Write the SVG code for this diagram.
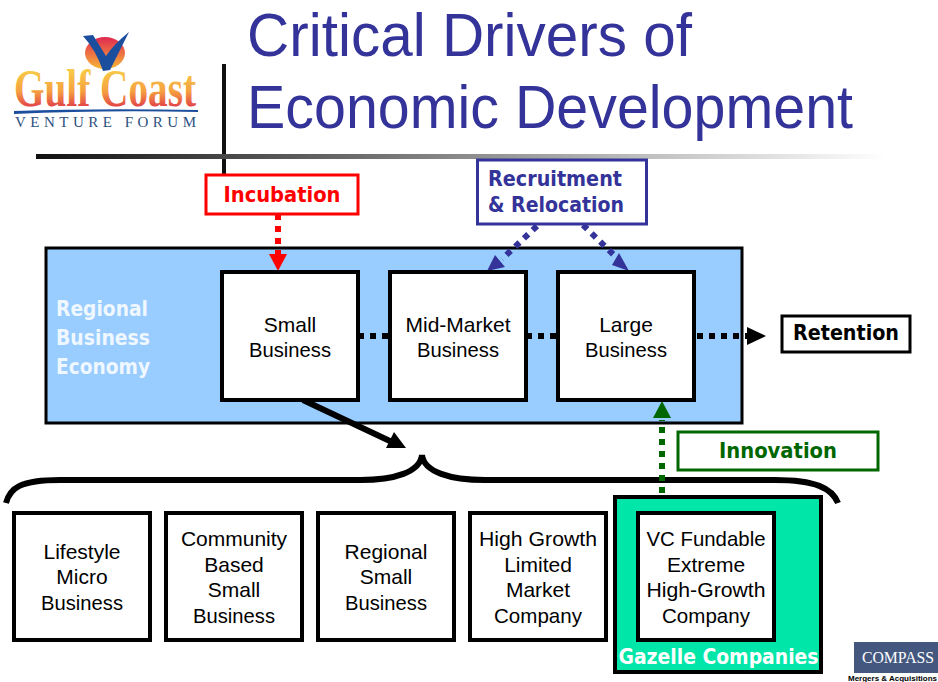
<svg xmlns="http://www.w3.org/2000/svg" width="938" height="682" viewBox="0 0 938 682">
<style>
text{font-family:"Liberation Sans","DejaVu Sans",sans-serif}
.box{fill:#fff;stroke:#000;stroke-width:4}
.lbl{font-size:21px;text-anchor:middle;fill:#000}
.bold{font-family:"DejaVu Sans",sans-serif;font-weight:700}
.title{font-size:61px;fill:#333399}
.dot{fill:none;stroke-width:6;stroke-dasharray:6 6}
</style>
<defs>
<linearGradient id="rule" x1="0" x2="1" y1="0" y2="0"><stop offset="0" stop-color="#111"/><stop offset="0.35" stop-color="#666"/><stop offset="0.7" stop-color="#bbb"/><stop offset="1" stop-color="#fff"/></linearGradient>
<linearGradient id="gulf" x1="0" x2="0" y1="0" y2="1"><stop offset="0.2" stop-color="#f8c848"/><stop offset="0.55" stop-color="#f5a040"/><stop offset="0.85" stop-color="#e03848"/></linearGradient>
<linearGradient id="sun" x1="0" x2="0" y1="0" y2="1"><stop offset="0" stop-color="#e02850"/><stop offset="1" stop-color="#f8b838"/></linearGradient>
</defs>
<rect width="938" height="682" fill="#fff"/>
<g id="logo-gulf-coast">
<ellipse cx="105" cy="53" rx="20" ry="16" fill="url(#sun)"/>
<path d="M83 36 L93 35 Q101 48 106 56 Q114 44 129 32 Q120 50 110 70 L103 71 Q96 50 83 36Z" fill="#1c4e9e"/>
<text x="14" y="106" font-size="52" font-weight="700" textLength="182" lengthAdjust="spacingAndGlyphs" style="font-family:'Liberation Serif',serif" fill="url(#gulf)">Gulf Coast</text>
<path d="M14 111 Q100 108 198 110 L198 112 Q100 110 14 114Z" fill="#1c4e9e"/>
<text x="15" y="127" font-size="15" textLength="181" style="font-family:'Liberation Serif',serif" fill="#2c5080">VENTURE FORUM</text>
</g>
<g id="title">
<rect x="222" y="64" width="4" height="111" fill="#111"/>
<rect x="36" y="154" width="850" height="5" fill="url(#rule)"/>
<text class="title" x="247" y="56" textLength="445" lengthAdjust="spacingAndGlyphs">Critical Drivers of</text>
<text class="title" x="247" y="128" textLength="606" lengthAdjust="spacingAndGlyphs">Economic Development</text>
</g>
<g id="regional-economy">
<rect x="46" y="248" width="696" height="175" fill="#99ccff" stroke="#000" stroke-width="3"/>
<text class="bold" font-size="21" fill="#fff" opacity="0.85"><tspan x="56" y="316" textLength="92" lengthAdjust="spacingAndGlyphs">Regional</tspan><tspan x="56" y="345" textLength="94" lengthAdjust="spacingAndGlyphs">Business</tspan><tspan x="56" y="374" textLength="94" lengthAdjust="spacingAndGlyphs">Economy</tspan></text>
</g>
<g id="connectors">
<path class="dot" d="M358 336H389M526 336H557" stroke="#000"/>
<path class="dot" d="M697 336H748" stroke="#000"/>
<path d="M766 336L747 327V345Z" fill="#000"/>
<path class="dot" d="M278 214V254" stroke="#f00"/>
<path d="M278 271L269 254H287Z" fill="#f00"/>
<path class="dot" d="M537 226L502 259" stroke="#333399"/>
<path d="M487 271L495 255L505 267Z" fill="#333399"/>
<path class="dot" d="M583 225L618 259" stroke="#333399"/>
<path d="M629 271L612 265L619 253Z" fill="#333399"/>
<path d="M303 400L392 442" fill="none" stroke="#000" stroke-width="6"/>
<path d="M406 448L386 448L394 432Z" fill="#000"/>
<path d="M6 503C10 488 20 480 60 480H360C395 480 420 472 422 455C424 472 450 480 485 480H775C815 480 832 488 838 503" fill="none" stroke="#000" stroke-width="6"/>
<path class="dot" d="M662 493V420" stroke="#006600"/>
<path d="M662 401L653 418H671Z" fill="#006600"/>
</g>
<g id="incubation"><rect x="206" y="175" width="152" height="39" fill="#fff" stroke="#f00" stroke-width="3"/><text class="bold" x="282" y="202" font-size="21" fill="#f00" text-anchor="middle" textLength="117" lengthAdjust="spacingAndGlyphs">Incubation</text></g>
<g id="recruitment"><rect x="477.500" y="160" width="169" height="64" fill="#fff" stroke="#333399" stroke-width="3"/><text class="bold" font-size="21" fill="#333399"><tspan x="488" y="186" textLength="134" lengthAdjust="spacingAndGlyphs">Recruitment</tspan><tspan x="488" y="212" textLength="136" lengthAdjust="spacingAndGlyphs">&amp; Relocation</tspan></text></g>
<g id="small-business"><rect class="box" x="222" y="272" width="136" height="128"/><text class="lbl"><tspan x="290" y="332">Small</tspan><tspan x="290" y="357" textLength="82" lengthAdjust="spacingAndGlyphs">Business</tspan></text></g>
<g id="mid-market"><rect class="box" x="390" y="272" width="136" height="128"/><text class="lbl"><tspan x="458" y="332">Mid-Market</tspan><tspan x="458" y="357" textLength="82" lengthAdjust="spacingAndGlyphs">Business</tspan></text></g>
<g id="large-business"><rect class="box" x="558" y="272" width="136" height="128"/><text class="lbl"><tspan x="626" y="332">Large</tspan><tspan x="626" y="357" textLength="82" lengthAdjust="spacingAndGlyphs">Business</tspan></text></g>
<g id="retention"><rect x="782" y="316" width="128" height="36" fill="#fff" stroke="#000" stroke-width="3"/><text class="bold" x="846" y="340" font-size="21" fill="#000" text-anchor="middle" textLength="106" lengthAdjust="spacingAndGlyphs">Retention</text></g>
<g id="innovation"><rect x="678" y="432" width="200" height="38" fill="#fff" stroke="#006600" stroke-width="3"/><text class="bold" x="778" y="458" font-size="21" fill="#006600" text-anchor="middle" textLength="118" lengthAdjust="spacingAndGlyphs">Innovation</text></g>
<g id="lifestyle"><rect class="box" x="14" y="513" width="136" height="127"/><text class="lbl"><tspan x="82" y="559">Lifestyle</tspan><tspan x="82" y="584">Micro</tspan><tspan x="82" y="610" textLength="82" lengthAdjust="spacingAndGlyphs">Business</tspan></text></g>
<g id="community"><rect class="box" x="166" y="513" width="136" height="127"/><text class="lbl"><tspan x="234" y="546">Community</tspan><tspan x="234" y="572">Based</tspan><tspan x="234" y="597">Small</tspan><tspan x="234" y="623" textLength="82" lengthAdjust="spacingAndGlyphs">Business</tspan></text></g>
<g id="regional-small"><rect class="box" x="318" y="513" width="136" height="127"/><text class="lbl"><tspan x="386" y="559">Regional</tspan><tspan x="386" y="584">Small</tspan><tspan x="386" y="610" textLength="82" lengthAdjust="spacingAndGlyphs">Business</tspan></text></g>
<g id="high-growth"><rect class="box" x="470" y="513" width="136" height="127"/><text class="lbl"><tspan x="538" y="546" textLength="118" lengthAdjust="spacingAndGlyphs">High Growth</tspan><tspan x="538" y="572">Limited</tspan><tspan x="538" y="597">Market</tspan><tspan x="538" y="623" textLength="88" lengthAdjust="spacingAndGlyphs">Company</tspan></text></g>
<g id="gazelle"><rect x="615" y="497" width="206" height="175" fill="#00e6a8" stroke="#000" stroke-width="4"/><text class="bold" x="718.500" y="664" font-size="21" fill="#fff" text-anchor="middle" textLength="200" lengthAdjust="spacingAndGlyphs">Gazelle Companies</text></g>
<g id="vc-fundable"><rect class="box" x="638" y="513" width="136" height="127"/><text class="lbl"><tspan x="706" y="546" textLength="119" lengthAdjust="spacingAndGlyphs">VC Fundable</tspan><tspan x="706" y="572">Extreme</tspan><tspan x="706" y="597" textLength="119" lengthAdjust="spacingAndGlyphs">High-Growth</tspan><tspan x="706" y="623" textLength="88" lengthAdjust="spacingAndGlyphs">Company</tspan></text></g>
<g id="logo-compass">
<rect x="854" y="642" width="84" height="31" fill="#44587f"/>
<text x="862" y="663" font-size="16" fill="#fff" textLength="72" lengthAdjust="spacingAndGlyphs" style="font-family:'Liberation Serif',serif">COMPASS</text>
<text x="848" y="681" font-size="7.500" font-weight="700" fill="#000" textLength="89" lengthAdjust="spacingAndGlyphs">Mergers &amp; Acquisitions</text>
</g>
</svg>
